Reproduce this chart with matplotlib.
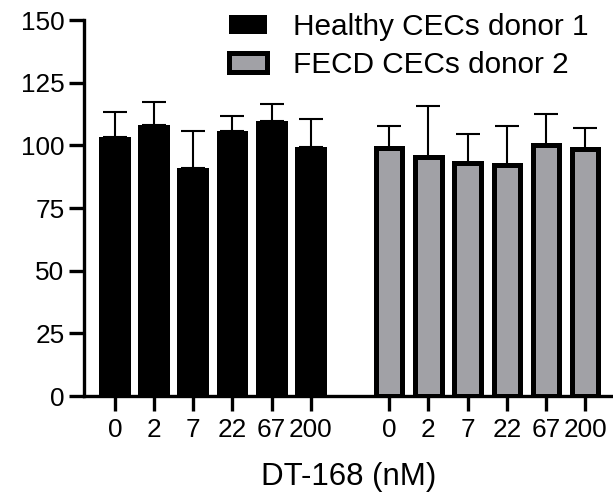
import matplotlib.pyplot as plt
import numpy as np

plt.rcParams['font.family'] = ['Liberation Sans', 'DejaVu Sans']

doses = ['0', '2', '7', '22', '67', '200']
healthy_mean = [103.5, 108.3, 90.9, 105.8, 109.9, 99.5]
healthy_err = [9.9, 9.1, 14.8, 6.0, 6.8, 11.2]
fecd_mean = [98.8, 95.5, 93.1, 92.1, 100.1, 98.5]
fecd_err = [9.0, 20.3, 11.4, 15.7, 12.5, 8.6]

x1 = np.arange(len(doses))
x2 = x1 + len(doses) + 1

fig = plt.figure(figsize=(6.13, 4.92), dpi=100)
ax = fig.add_axes([0.137, 0.195, 0.863, 0.764])

ax.bar(x1, healthy_mean, width=0.81, color='black', zorder=2,
       label='Healthy CECs donor 1')
ax.bar(x2, fecd_mean, width=0.67, color='#a1a1a6', edgecolor='black',
       linewidth=3.6, zorder=2, label='FECD CECs donor 2')

zero = np.zeros(len(doses))
ax.errorbar(x1, healthy_mean, yerr=[zero, healthy_err], fmt='none',
            ecolor='black', elinewidth=1.5, capsize=8.4, capthick=1.5, zorder=1)
ax.errorbar(x2, fecd_mean, yerr=[zero, fecd_err], fmt='none',
            ecolor='black', elinewidth=1.5, capsize=8.4, capthick=1.5, zorder=1)

ax.set_ylim(0, 150)
ax.set_xlim(-0.79, 12.71)
ax.set_yticks([0, 25, 50, 75, 100, 125, 150])
ax.set_xticks(np.concatenate([x1, x2]))
ax.set_xticklabels(doses + doses)
ax.set_xlabel('DT-168 (nM)', fontsize=22.5, labelpad=14)

for s in ['top', 'right']:
    ax.spines[s].set_visible(False)
for s in ['left', 'bottom']:
    ax.spines[s].set_linewidth(2.4)
    ax.spines[s].set_zorder(3)
ax.tick_params(axis='both', width=2.4, length=11, labelsize=18.8)
ax.tick_params(axis='y', pad=3)
ax.tick_params(axis='x', pad=5)

ax.legend(loc='upper left', bbox_to_anchor=(229 / 613, 1 - 13 / 492),
          bbox_transform=fig.transFigure, frameon=False, fontsize=21.4,
          handlelength=1.29, handleheight=0.6, handletextpad=0.85,
          labelspacing=0.33, borderpad=0, borderaxespad=0)

fig.savefig('out.png', dpi=100)
